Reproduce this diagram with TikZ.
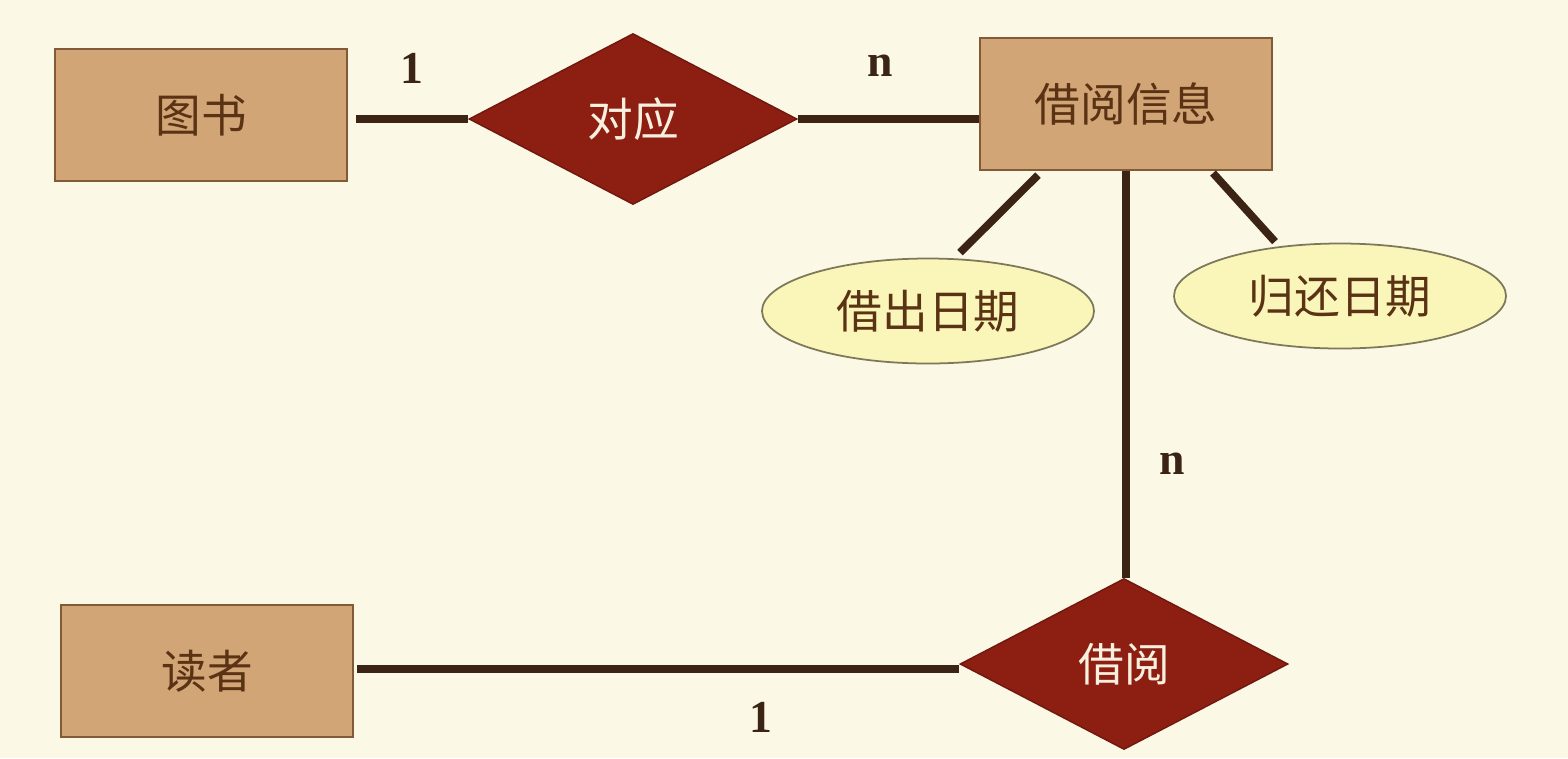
\documentclass[tikz,border=0pt]{standalone}
\usepackage{fontspec}
\setmainfont{Liberation Serif}
\newfontfamily\cjk{Noto Sans CJK SC}
\usepackage{tikz}
\usetikzlibrary{shapes.geometric, positioning, calc}
\definecolor{PaperBg}{RGB}{252,248,230}
\definecolor{EntityTan}{RGB}{210,165,118}
\definecolor{EntityEdge}{RGB}{130,90,55}
\definecolor{RelRed}{RGB}{140,30,18}
\definecolor{AttrYellow}{RGB}{250,246,185}
\definecolor{AttrEdge}{RGB}{125,120,90}
\definecolor{LinkBrown}{RGB}{60,36,20}
\definecolor{TextBrown}{RGB}{90,50,20}
\definecolor{TextCream}{RGB}{248,240,222}

\begin{document}
\begin{tikzpicture}[
        ent/.style={rectangle,draw=EntityEdge,fill=EntityTan,line width=0.6pt,
                    minimum width=2.92cm,minimum height=1.32cm,
                    font=\cjk\fontsize{13}{15}\selectfont,text=TextBrown},
        rel/.style={diamond,draw=RelRed!80!black,fill=RelRed,inner sep=0pt,
                    minimum width=3.28cm,minimum height=1.71cm,
                    font=\cjk\fontsize{13}{15}\selectfont,text=TextCream},
        attr/.style={ellipse,draw=AttrEdge,fill=AttrYellow,line width=0.5pt,
                     minimum width=3.32cm,minimum height=1.05cm,
                     font=\cjk\fontsize{13}{15}\selectfont,text=TextBrown},
        link/.style={draw=LinkBrown,line width=2.2pt},
        card/.style={font=\bfseries\fontsize{13}{15}\selectfont,text=LinkBrown}
      ]
        \fill[PaperBg] (0,0) rectangle (15.68,7.58);
        \useasboundingbox (0,0) rectangle (15.68,7.58);
        % entities
        \node[ent] (tushu) at (2.01,6.43) {图书};
        \node[ent] (xinxi) at (11.26,6.54) {借阅信息};
        \node[ent] (duzhe) at (2.07,0.87) {读者};
        % relationships
        \node[rel] (duiying) at (6.33,6.39) {对应};
        \node[rel] (jieyue) at (11.24,0.94) {借阅};
        % attributes
        \node[attr] (chuqi) at (9.28,4.47) {借出日期};
        \node[attr] (huanqi) at (13.40,4.62) {归还日期};
        % links
        \draw[link] ([xshift=0.08cm]tushu.east |- duiying.west) -- (duiying.west)
          node[card,midway,above=0.2cm] {1};
        \draw[link] (duiying.east) -- (duiying.east -| xinxi.west)
          node[card,midway,above=0.27cm,xshift=-0.08cm] {n};
        \draw[link] ([xshift=-0.88cm,yshift=-0.04cm]xinxi.south)
          -- ([xshift=0.32cm,yshift=0.05cm]chuqi.north);
        \draw[link] ([xshift=0.87cm,yshift=-0.02cm]xinxi.south)
          -- ([xshift=-0.65cm,yshift=0.01cm]huanqi.north);
        \draw[link] (xinxi.south) -- (xinxi.south |- jieyue.north)
          node[card,pos=0.72,right=0.18cm] {n};
        \draw[link] ([xshift=0.03cm,yshift=-0.05cm]duzhe.east |- jieyue.west)
          -- ([yshift=-0.05cm]jieyue.west)
          node[card,pos=0.67,below=0.18cm] {1};
      \end{tikzpicture}
\end{document}
